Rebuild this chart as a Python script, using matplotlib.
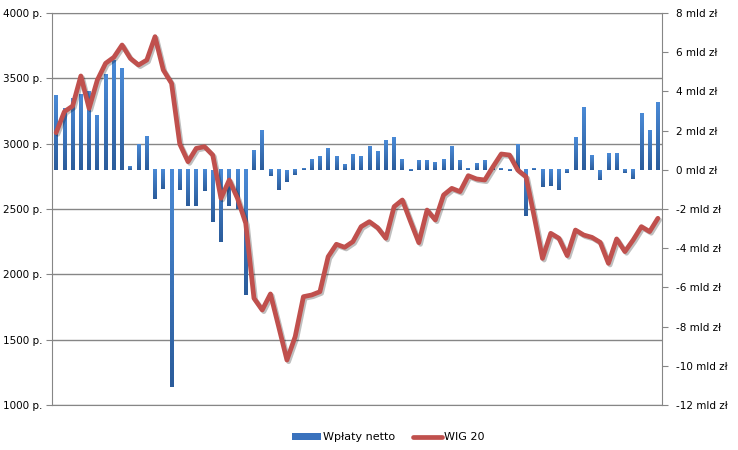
import numpy as np
import matplotlib
matplotlib.use("Agg")
import matplotlib.pyplot as plt
import matplotlib.patheffects as pe
from matplotlib.colors import LinearSegmentedColormap
from matplotlib.patches import Patch
from matplotlib.lines import Line2D

# dane (74 okresy)
wplaty_netto = [
    3.78, 3.15, 3.66, 3.83, 4.03, 2.76, 4.85, 5.61, 5.20, 0.20,
    1.28, 1.73, -1.48, -0.97, -11.10, -1.05, -1.87, -1.87, -1.10, -2.64,
    -3.70, -1.87, -2.00, -6.38, 1.02, 1.99, -0.34, -1.05, -0.60, -0.29,
    0.08, 0.56, 0.68, 1.12, 0.68, 0.26, 0.77, 0.68, 1.19, 0.92,
    1.53, 1.65, 0.56, -0.04, 0.46, 0.46, 0.39, 0.56, 1.19, 0.46,
    0.08, 0.31, 0.46, 0.00, 0.04, -0.04, 1.28, -2.35, 0.04, -0.90,
    -0.85, -1.05, -0.17, 1.65, 3.18, 0.73, -0.51, 0.82, 0.82, -0.17,
    -0.46, 2.89, 2.04, 3.42,
]
wig20 = [
    3084, 3245, 3288, 3518, 3270, 3487, 3615, 3661, 3755, 3653,
    3602, 3640, 3819, 3564, 3462, 2997, 2862, 2964, 2977, 2913,
    2582, 2722, 2582, 2391, 1817, 1727, 1850, 1599, 1344, 1523,
    1829, 1842, 1867, 2135, 2230, 2207, 2250, 2365, 2403, 2357,
    2276, 2518, 2569, 2403, 2242, 2492, 2416, 2607, 2658, 2633,
    2755, 2730, 2722, 2824, 2921, 2913, 2798, 2747, 2441, 2122,
    2314, 2276, 2143, 2339, 2301, 2283, 2245, 2084, 2271, 2174,
    2263, 2365, 2327, 2429,
]
left_ticks = [1000, 1500, 2000, 2500, 3000, 3500, 4000]
right_ticks = [-12, -10, -8, -6, -4, -2, 0, 2, 4, 6, 8]

GRID = "#868686"
RED = "#c0504d"
plt.rcParams["font.family"] = "DejaVu Sans"
plt.rcParams["font.size"] = 7.5

fig = plt.figure(figsize=(7.38, 4.5), dpi=100)
rect = [52 / 738, 45 / 450, 610 / 738, 392 / 450]

# os lewa: siatka + etykiety WIG 20
axg = fig.add_axes(rect)
axg.set_ylim(1000, 4000)
axg.set_yticks(left_ticks)
axg.set_yticklabels([f"{v} p." for v in left_ticks])
axg.set_xticks([])
axg.grid(axis="y", color=GRID, lw=1)
axg.tick_params(axis="y", length=4, color=GRID, pad=3)
for s in axg.spines.values():
    s.set_color(GRID)

# os prawa: slupki wplat netto
axb = axg.twinx()
x = np.arange(len(wplaty_netto))
bars = axb.bar(x, wplaty_netto, width=0.45, color="none", edgecolor="none")
cmap = LinearSegmentedColormap.from_list("blu", ["#4a8ad6", "#2b5c9b"])
grad = np.linspace(0, 1, 64).reshape(-1, 1)
for b in bars:
    x0, y0 = b.get_x(), b.get_y()
    w, h = b.get_width(), b.get_height()
    lo, hi = min(y0, y0 + h), max(y0, y0 + h)
    if hi - lo < 0.06:
        if h >= 0:
            hi = lo + 0.06
        else:
            lo = hi - 0.06
    axb.imshow(grad, extent=[x0, x0 + w, lo, hi], aspect="auto",
               cmap=cmap, origin="upper", zorder=2)
axb.set_xlim(-0.5, len(wplaty_netto) - 0.5)
axb.set_ylim(-12, 8)
axb.set_yticks(right_ticks)
axb.set_yticklabels([f"{v} mld zł" for v in right_ticks])
axb.tick_params(axis="y", length=4, color=GRID, pad=6)
for s in axb.spines.values():
    s.set_visible(False)

# linia WIG 20
axl = axg.twinx()
axl.plot(x, wig20, color=RED, lw=3.4, solid_joinstyle="round",
         solid_capstyle="round",
         path_effects=[pe.SimpleLineShadow(offset=(1.2, -1.2), alpha=0.25),
                       pe.Normal()])
axl.set_ylim(1000, 4000)
axl.set_xlim(-0.5, len(wig20) - 0.5)
axl.set_yticks([])
for s in axl.spines.values():
    s.set_visible(False)

handles = [Patch(facecolor="#3a72bd", edgecolor="none"),
           Line2D([], [], color=RED, lw=3.4, solid_capstyle="round")]
fig.legend(handles, ["Wpłaty netto", "WIG 20"], loc="center",
           bbox_to_anchor=(0.526, 0.028), ncol=2, frameon=False,
           handlelength=2.6, handleheight=0.5, columnspacing=1.6,
           handletextpad=0.2, fontsize=8)

fig.savefig("out.png", dpi=100)
